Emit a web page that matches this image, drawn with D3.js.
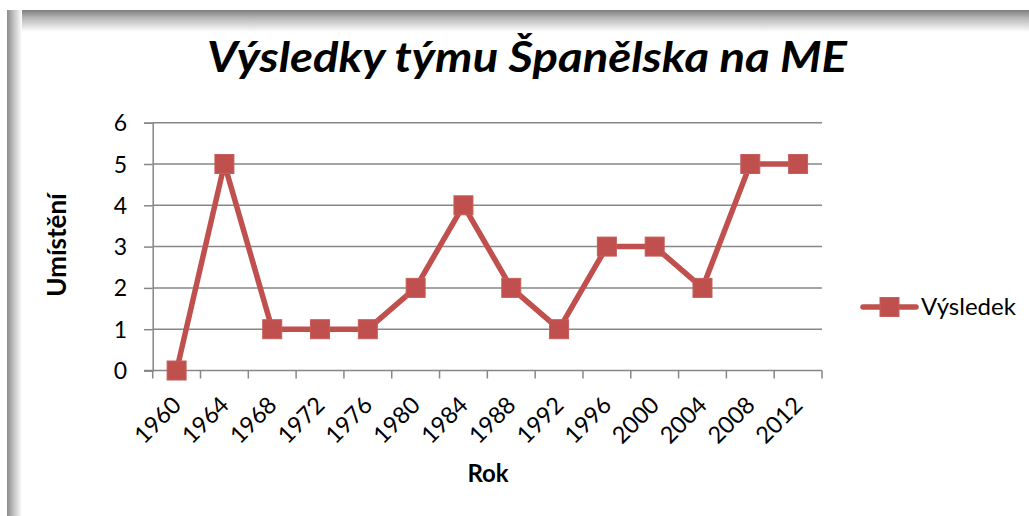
<!DOCTYPE html>
<html><head><meta charset="utf-8">
<script src="https://cdn.jsdelivr.net/npm/d3@7"></script>
<style>html,body{margin:0;padding:0;background:#fff;overflow:hidden}</style>
</head><body>
<svg id="c" width="1029" height="516"></svg>
<script>
const years = ["1960","1964","1968","1972","1976","1980","1984","1988","1992","1996","2000","2004","2008","2012"];
const placement = [0,5,1,1,1,2,4,2,1,3,3,2,5,5];
const yTicks = [0,1,2,3,4,5,6];
const seriesName = "Výsledek";
const titleText = "Výsledky týmu Španělska na ME";
const xTitle = "Rok";
const yTitle = "Umístění";

(function(){
const svg = d3.select("#c");
const FONT = "Lato, 'Open Sans', 'Liberation Sans', sans-serif";
const RED = "#C0504D";
const GRID = "#878787";

// frame shadow
const defs = svg.append("defs");
const gT = defs.append("linearGradient").attr("id","gT").attr("x1",0).attr("y1",0).attr("x2",0).attr("y2",1);
gT.append("stop").attr("offset","0%").attr("stop-color","#7f7f7f");
gT.append("stop").attr("offset","35%").attr("stop-color","#b5b5b5");
gT.append("stop").attr("offset","100%").attr("stop-color","#ffffff");
const gL = defs.append("linearGradient").attr("id","gL").attr("x1",0).attr("y1",0).attr("x2",1).attr("y2",0);
gL.append("stop").attr("offset","0%").attr("stop-color","#8a8a8a");
gL.append("stop").attr("offset","40%").attr("stop-color","#bdbdbd");
gL.append("stop").attr("offset","100%").attr("stop-color","#ffffff");
svg.append("rect").attr("x",7).attr("y",10).attr("width",1029-7).attr("height",22).attr("fill","url(#gT)");
svg.append("rect").attr("x",7).attr("y",10).attr("width",15).attr("height",516-10).attr("fill","url(#gL)");

const pL = 152.7, pR = 822, pT = 122.7, pB = 370.5;
const x = d3.scaleBand().domain(years).range([pL,pR]).padding(0);
const y = d3.scaleLinear().domain([0,6]).range([pB,pT]);

// gridlines
svg.append("g").selectAll("line").data(yTicks.filter(d=>d>0)).join("line")
  .attr("x1",pL).attr("x2",pR).attr("y1",d=>y(d)).attr("y2",d=>y(d))
  .attr("stroke",GRID).attr("stroke-width",1.5);

// y axis
const yAxis = svg.append("g").attr("transform",`translate(${pL},0)`)
  .call(d3.axisLeft(y).tickValues(yTicks).tickSize(8.7).tickPadding(17).tickFormat(d3.format("d")));
yAxis.select(".domain").attr("stroke",GRID).attr("stroke-width",1.5);
yAxis.selectAll(".tick line").attr("stroke",GRID).attr("stroke-width",1.5);
yAxis.selectAll("text").attr("font-family",FONT).attr("font-size",23).attr("fill","#000").attr("dy","0.35em");

// x axis
const xg = svg.append("g");
xg.append("line").attr("x1",pL-8.7).attr("x2",pR).attr("y1",pB).attr("y2",pB).attr("stroke",GRID).attr("stroke-width",1.5);
const edges = years.map(d=>x(d)).concat([x.range()[1]]);
xg.selectAll("line.t").data(edges).join("line").attr("class","t")
  .attr("x1",d=>d).attr("x2",d=>d).attr("y1",pB).attr("y2",pB+8)
  .attr("stroke",GRID).attr("stroke-width",1.5);
xg.selectAll("text").data(years).join("text")
  .attr("transform",d=>`translate(${x(d)+x.bandwidth()/2+6},${pB+36}) rotate(-45)`)
  .attr("text-anchor","end").attr("font-family",FONT).attr("font-size",23.5).text(d=>d);

// line
const line = d3.line().x((d,i)=>x(years[i])+x.bandwidth()/2).y(d=>y(d));
svg.append("path").datum(placement).attr("d",line).attr("fill","none")
  .attr("stroke",RED).attr("stroke-width",5.5).attr("stroke-linejoin","round");
const ms = 19;
svg.append("g").selectAll("rect").data(placement).join("rect")
  .attr("x",(d,i)=>x(years[i])+x.bandwidth()/2-ms/2).attr("y",d=>y(d)-ms/2)
  .attr("width",ms).attr("height",ms).attr("fill",RED).attr("stroke","#c85d5a").attr("stroke-width",1);

// title
svg.append("text").attr("x",527).attr("y",72).attr("text-anchor","middle")
  .attr("font-family",FONT).attr("font-weight","bold").attr("font-style","italic")
  .attr("font-size",42).attr("textLength",640).attr("lengthAdjust","spacingAndGlyphs").text(titleText);

// axis titles
svg.append("text").attr("x",488).attr("y",482).attr("text-anchor","middle")
  .attr("font-family",FONT).attr("font-weight","bold").attr("font-size",24).text(xTitle);
svg.append("text").attr("transform","translate(66,245) rotate(-90)").attr("text-anchor","middle")
  .attr("font-family",FONT).attr("font-weight","bold").attr("font-size",26).text(yTitle);

// legend
const lg = svg.append("g");
lg.append("line").attr("x1",863).attr("x2",916).attr("y1",307).attr("y2",307)
  .attr("stroke",RED).attr("stroke-width",5.5).attr("stroke-linecap","round");
lg.append("rect").attr("x",889.5-ms/2).attr("y",307-ms/2).attr("width",ms).attr("height",ms)
  .attr("fill",RED).attr("stroke","#c85d5a").attr("stroke-width",1);
lg.append("text").attr("x",921).attr("y",315).attr("font-family",FONT).attr("font-size",24).text(seriesName);
})();
</script>
</body></html>
